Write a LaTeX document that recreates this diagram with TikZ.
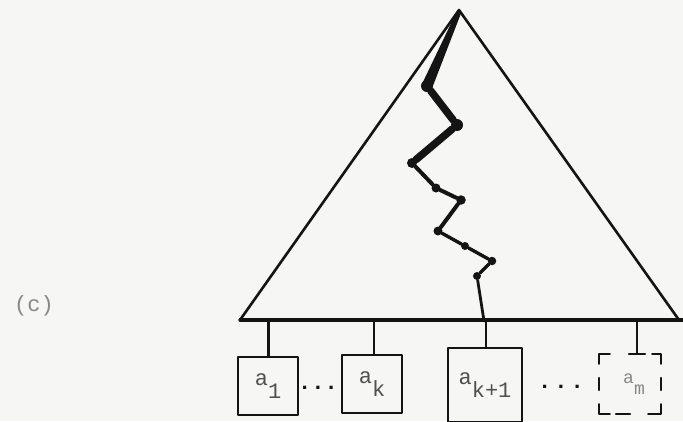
\documentclass[tikz,border=0pt]{standalone}
\usepackage{fontspec}
\setmonofont{Liberation Mono}
\usetikzlibrary{calc}
\definecolor{bg}{RGB}{246,246,245}
\definecolor{ink}{RGB}{20,20,20}
\definecolor{txt}{RGB}{80,80,80}
\definecolor{faint}{RGB}{135,135,135}
\begin{document}
\begin{tikzpicture}[x=1pt,y=-1pt,line join=round,line cap=round,
  tri/.style={draw=ink,line width=2.6pt},
  baseline/.style={draw=ink,line width=3.2pt},
  stem/.style={draw=ink,line width=2.4pt},
  vtx/.style={circle,fill=ink,inner sep=0pt,minimum size=#1},
  box/.style={draw=ink,line width=2.4pt,rectangle,inner sep=0pt,
    minimum width=60pt,minimum height=58pt,text=txt,
    font=\fontsize{22}{26}\selectfont\ttfamily},
  dbox/.style={rectangle,inner sep=0pt,minimum width=62pt,minimum height=60pt,
    text=faint,font=\fontsize{18}{22}\selectfont\ttfamily},
  dseg/.style={draw=ink,line width=2.4pt},
  dotsl/.style={text=ink,font=\fontsize{22}{24}\selectfont\ttfamily\bfseries,inner sep=0pt}
]
\useasboundingbox (0,0) rectangle (683,421);
\fill[bg] (0,0) rectangle (683,421);

% triangle
\coordinate (apex) at (459,10);
\coordinate (L) at (240,320);
\coordinate (R) at (679,320);
\coordinate (Rend) at (683,320);
\draw[tri] (L) -- (apex) -- (R);
\draw[baseline] (L) -- (Rend);

% path vertices
\node[vtx=12pt] (p1) at (427,86) {};
\node[vtx=12pt] (p2) at (457,125) {};
\node[vtx=10pt] (p3) at (412,163) {};
\node[vtx=9pt] (p4) at (436,188) {};
\node[vtx=9.5pt] (p5) at (461,200) {};
\node[vtx=9pt] (p6) at (438,231) {};
\node[vtx=8pt] (p7) at (465,246) {};
\node[vtx=8.5pt] (p8) at (492,261) {};
\node[vtx=8pt] (p9) at (477,276) {};
\coordinate (pend) at (484,321);

\fill[ink] ($(apex)+(-2,1)$) -- ($(apex)+(2.5,2)$) -- ($(p1)+(5.5,1)$) -- ($(p1)+(-5.5,-1)$) -- cycle;
\draw[ink,line width=7.5pt] (p1) -- (p2) -- (p3);
\draw[ink,line width=4pt] (p3) -- (p4) -- (p5) -- (p6);
\draw[ink,line width=3.4pt] (p6) -- (p7) -- (p8) -- (p9);
\draw[ink,line width=2.8pt] (p9) -- (pend);

% leaves
\node[box] (a1) at (268,386) {a\raisebox{-13pt}{1}};
\node[box] (ak) at (372,384) {a\raisebox{-13pt}{k}};
\node[box,minimum width=74pt,minimum height=74pt] (ak1) at (485,385) {a\raisebox{-13pt}{k+1}};
\node[dbox] (am) at (630,384) {\hspace*{8pt}a\raisebox{-11pt}{m}};

\node[dotsl] (d1) at (318,388) {...};
\node[dotsl] (d2) at (561,387) {.\hspace{3pt}.\hspace{3pt}.};

% stems
\draw[stem,line width=3pt] (a1.north) -- (a1.north |- L);
\draw[stem,line width=2pt] ([xshift=2pt]ak.north) -- ([xshift=2pt]ak.north |- L);
\draw[stem,line width=2pt] ([xshift=1pt]ak1.north) -- ([xshift=1pt]ak1.north |- L);
\draw[stem] ([xshift=7pt]am.north) -- ([xshift=7pt]am.north |- L);

% dashed outline of a_m
\draw[dseg] ([yshift=-10pt]am.north west) -- (am.north west) -- ([xshift=11pt]am.north west);
\draw[dseg] ([xshift=-1pt]am.north) -- ([xshift=15pt]am.north);
\draw[dseg] ([yshift=-10pt]am.north east) -- (am.north east) -- ([xshift=-9pt]am.north east);
\draw[dseg] ([yshift=6pt]am.west) -- ([yshift=-6pt]am.west);
\draw[dseg] ([yshift=6pt]am.east) -- ([yshift=-6pt]am.east);
\draw[dseg] ([yshift=10pt]am.south west) -- (am.south west) -- ([xshift=11pt]am.south west);
\draw[dseg] ([xshift=-14pt]am.south) -- ([xshift=0pt]am.south);
\draw[dseg] ([yshift=10pt]am.south east) -- (am.south east) -- ([xshift=-13pt]am.south east);

\node[text=faint,font=\fontsize{22}{26}\selectfont\ttfamily] (lab) at (34,306) {(c)};
\end{tikzpicture}
\end{document}
